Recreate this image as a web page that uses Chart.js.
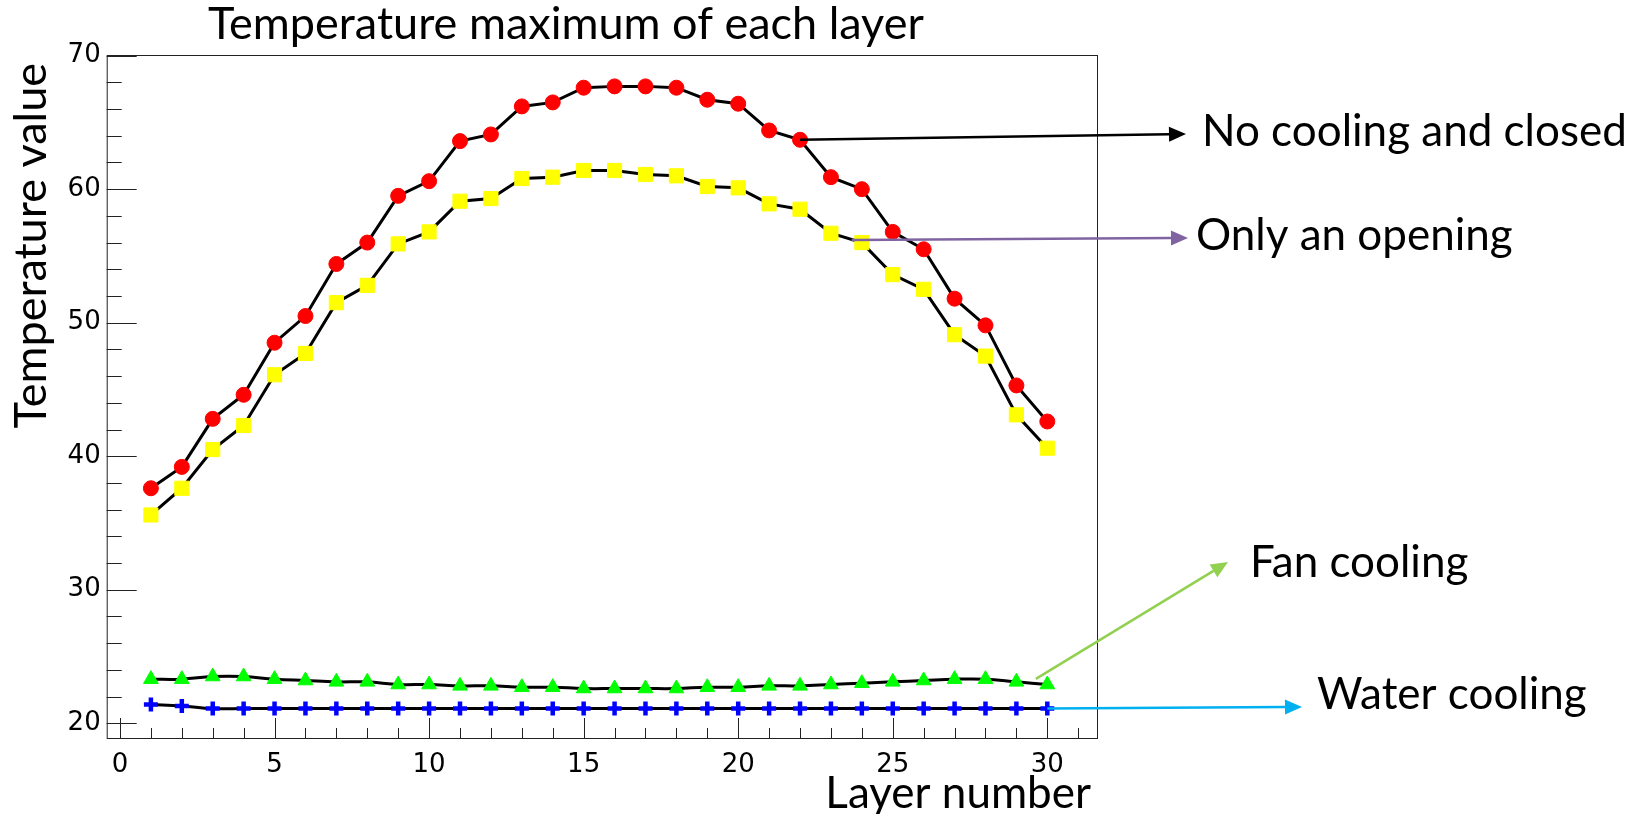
<!DOCTYPE html>
<html>
<head>
<meta charset="utf-8">
<script src="https://cdn.jsdelivr.net/npm/chart.js@4.4.0/dist/chart.umd.min.js"></script>
<style>
  html, body { margin: 0; padding: 0; background: #fff; }
</style>
</head>
<body>
<canvas id="layers" width="1633" height="814"></canvas>
<script>
// layer index and max temperature per layer for each setup
const layers = [1, 2, 3, 4, 5, 6, 7, 8, 9, 10, 11, 12, 13, 14, 15,
                16, 17, 18, 19, 20, 21, 22, 23, 24, 25, 26, 27, 28, 29, 30];
const noCooling = [37.6, 39.2, 42.8, 44.6, 48.5, 50.5, 54.4, 56.0, 59.5, 60.6,
                   63.6, 64.1, 66.2, 66.5, 67.6, 67.7, 67.7, 67.6, 66.7, 66.4,
                   64.4, 63.7, 60.9, 60.0, 56.8, 55.5, 51.8, 49.8, 45.3, 42.6];
const onlyOpening = [35.6, 37.6, 40.5, 42.3, 46.1, 47.7, 51.5, 52.8, 55.9, 56.8,
                     59.1, 59.3, 60.8, 60.9, 61.4, 61.4, 61.1, 61.0, 60.2, 60.1,
                     58.9, 58.5, 56.7, 56.0, 53.6, 52.5, 49.1, 47.5, 43.1, 40.6];
const fanCooling = [23.3, 23.3, 23.5, 23.5, 23.3, 23.2, 23.1, 23.1, 22.9, 22.9,
                    22.8, 22.8, 22.7, 22.7, 22.6, 22.6, 22.6, 22.6, 22.7, 22.7,
                    22.8, 22.8, 22.9, 23.0, 23.1, 23.2, 23.3, 23.3, 23.1, 22.9];
const waterCooling = [21.4, 21.3, 21.1, 21.1, 21.1, 21.1, 21.1, 21.1, 21.1, 21.1,
                      21.1, 21.1, 21.1, 21.1, 21.1, 21.1, 21.1, 21.1, 21.1, 21.1,
                      21.1, 21.1, 21.1, 21.1, 21.1, 21.1, 21.1, 21.1, 21.1, 21.1];

const xTicks = [0, 5, 10, 15, 20, 25, 30];
const yTicks = [20, 30, 40, 50, 60, 70];

const toPoints = (ys) => ys.map((y, i) => ({ x: layers[i], y: y }));

// labels pointing at each curve: "from" is in data units, "to" / "at" in canvas px
const notes = [
  { text: "No cooling and closed", color: "#000000", from: [22, noCooling[21]], to: [1186, 134], at: [1202, 132] },
  { text: "Only an opening", color: "#8064a2", from: [23.67, 56.2], to: [1188, 238], at: [1196, 236] },
  { text: "Fan cooling", color: "#92d050", from: [29.63, 23.32], to: [1228, 562], at: [1250, 563] },
  { text: "Water cooling", color: "#00b0f0", from: [30, waterCooling[29]], to: [1302, 707], at: [1317, 695] },
];

const sansText = "Lato, 'Open Sans', sans-serif";
const tickFont = { family: "'DejaVu Sans', sans-serif", size: 26 };

function arrow(ctx, x1, y1, x2, y2, color) {
  const ang = Math.atan2(y2 - y1, x2 - x1);
  const len = 17, half = 7.5;
  const bx = x2 - len * Math.cos(ang), by = y2 - len * Math.sin(ang);
  ctx.strokeStyle = color;
  ctx.lineWidth = 2.5;
  ctx.beginPath();
  ctx.moveTo(x1, y1);
  ctx.lineTo(bx, by);
  ctx.stroke();
  ctx.fillStyle = color;
  ctx.beginPath();
  ctx.moveTo(x2, y2);
  ctx.lineTo(bx + half * Math.sin(ang), by - half * Math.cos(ang));
  ctx.lineTo(bx - half * Math.sin(ang), by + half * Math.cos(ang));
  ctx.closePath();
  ctx.fill();
}

// frame, inward ticks, titles and the arrow labels
const decorations = {
  id: "decorations",
  afterDraw(chart) {
    const ctx = chart.ctx;
    const a = chart.chartArea;
    const xs = chart.scales.x, ys = chart.scales.y;
    ctx.save();

    ctx.strokeStyle = "#222";
    ctx.lineWidth = 1;
    ctx.strokeRect(a.left + 0.5, a.top + 0.5, a.right - a.left - 1, a.bottom - a.top - 1);

    ctx.beginPath();
    for (let v = 0; v <= xs.max; v++) {
      const px = Math.round(xs.getPixelForValue(v)) + 0.5;
      const len = v % 5 === 0 ? 21 : 11;
      ctx.moveTo(px, a.bottom);
      ctx.lineTo(px, a.bottom - len);
    }
    for (let v = 20; v <= ys.max; v += 2) {
      const py = Math.round(ys.getPixelForValue(v)) + 0.5;
      const len = v % 10 === 0 ? 30 : 15;
      ctx.moveTo(a.left, py);
      ctx.lineTo(a.left + len, py);
    }
    ctx.stroke();

    ctx.fillStyle = "#000";
    ctx.textBaseline = "alphabetic";
    ctx.font = "45px " + sansText;
    ctx.textAlign = "left";
    ctx.fillText("Temperature maximum of each layer", 208, 39);

    ctx.font = "44px " + sansText;
    ctx.textAlign = "right";
    ctx.fillText("Layer number", 1091, 808);

    ctx.save();
    ctx.translate(46, 63);
    ctx.rotate(-Math.PI / 2);
    ctx.font = "45px " + sansText;
    ctx.textAlign = "right";
    ctx.fillText("Temperature value", 0, 0);
    ctx.restore();

    ctx.font = "44px " + sansText;
    ctx.textAlign = "left";
    ctx.textBaseline = "middle";
    notes.forEach((n) => {
      arrow(ctx, xs.getPixelForValue(n.from[0]), ys.getPixelForValue(n.from[1]), n.to[0], n.to[1], n.color);
      ctx.fillStyle = "#000";
      ctx.fillText(n.text, n.at[0], n.at[1]);
    });
    ctx.restore();
  }
};

const series = (data, style, color, radius, smooth) => ({
  data: toPoints(data),
  borderColor: "#000",
  borderWidth: 3,
  tension: smooth ? 0.4 : 0,
  pointStyle: style,
  pointRadius: radius,
  pointHoverRadius: radius,
  pointBackgroundColor: color,
  pointBorderColor: color,
  pointBorderWidth: style === "cross" ? 4.5 : 1,
  fill: false
});

new Chart(document.getElementById("layers"), {
  type: "line",
  data: {
    datasets: [
      series(noCooling, "circle", "#ff0000", 7.5, false),
      series(onlyOpening, "rect", "#ffff00", 10, false),
      series(fanCooling, "triangle", "#00ff00", 8.5, true),
      series(waterCooling, "cross", "#0000ff", 7, true)
    ]
  },
  options: {
    responsive: false,
    animation: false,
    devicePixelRatio: 1,
    layout: { padding: { left: 0, top: 55, right: 535, bottom: 0 } },
    plugins: {
      legend: { display: false },
      tooltip: { enabled: false }
    },
    scales: {
      x: {
        type: "linear",
        min: -0.43,
        max: 31.64,
        afterBuildTicks: (scale) => { scale.ticks = xTicks.map((v) => ({ value: v })); },
        afterFit: (scale) => { scale.height = 75; },
        ticks: { color: "#000", font: tickFont, padding: 11, maxRotation: 0 },
        grid: { display: false, drawTicks: false },
        border: { display: false }
      },
      y: {
        min: 18.82,
        max: 70.05,
        afterBuildTicks: (scale) => { scale.ticks = yTicks.map((v) => ({ value: v })); },
        afterFit: (scale) => { scale.width = 106.7; },
        ticks: { color: "#000", font: tickFont, padding: 6 },
        grid: { display: false, drawTicks: false },
        border: { display: false }
      }
    }
  },
  plugins: [decorations]
});
</script>
</body>
</html>
